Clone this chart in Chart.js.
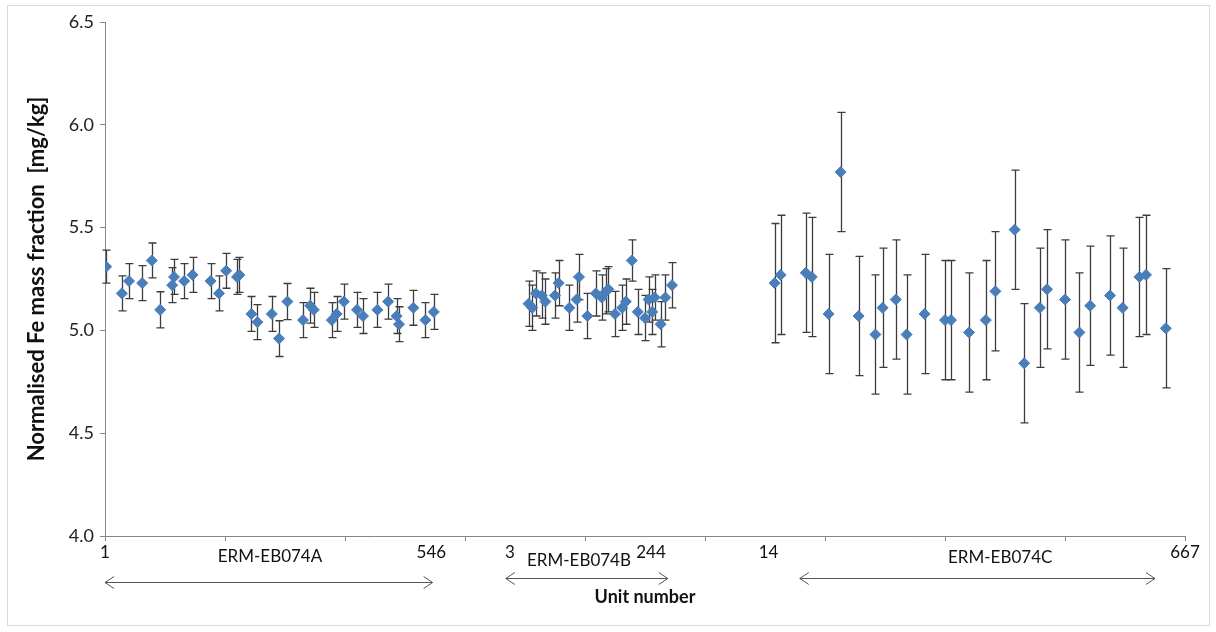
<!DOCTYPE html>
<html>
<head>
<meta charset="utf-8">
<script src="https://cdn.jsdelivr.net/npm/chart.js@4.4.1/dist/chart.umd.min.js"></script>
<style>
  html, body { margin: 0; padding: 0; background: #fff; }
  #wrap { width: 1216px; height: 632px; }
</style>
</head>
<body>
<div id="wrap"><canvas id="c" width="1216" height="632"></canvas></div>
<script>
/* Fe mass fraction per unit, three batches, Excel-style scatter with error bars. */

// ERM-EB074A
const posA = [0.1, 1.4, 2.0, 3.1, 3.9, 4.6, 5.6, 5.75, 6.6, 7.3, 8.8, 9.5, 10.1, 11.0, 11.2, 12.2, 12.7, 13.9, 14.5, 15.2,
  16.5, 17.1, 17.4, 18.9, 19.3, 19.9, 21.0, 21.5, 22.7, 23.6, 24.3, 24.5, 25.7, 26.7, 27.4];
const feA = [5.31, 5.18, 5.24, 5.23, 5.34, 5.10, 5.22, 5.26, 5.24, 5.27, 5.24, 5.18, 5.29, 5.26, 5.27, 5.08, 5.04, 5.08, 4.96, 5.14,
  5.05, 5.12, 5.10, 5.05, 5.08, 5.14, 5.10, 5.07, 5.10, 5.14, 5.07, 5.03, 5.11, 5.05, 5.09];
const uA = [0.08, 0.085, 0.085, 0.085, 0.085, 0.088, 0.085, 0.085, 0.085, 0.085, 0.085, 0.085, 0.085, 0.085, 0.085, 0.085, 0.085, 0.085, 0.087, 0.088,
  0.085, 0.085, 0.085, 0.085, 0.085, 0.085, 0.085, 0.085, 0.085, 0.085, 0.085, 0.085, 0.085, 0.085, 0.085];

// ERM-EB074B
const posB = [35.3, 35.6, 35.9, 36.4, 36.7, 37.5, 37.8, 38.7, 39.3, 39.5, 40.2, 40.9, 41.4, 41.75, 41.95, 42.5, 43.1, 43.4,
  43.9, 44.4, 45.0, 45.3, 45.6, 45.8, 46.3, 46.7, 47.25];
const feB = [5.13, 5.11, 5.18, 5.17, 5.14, 5.17, 5.23, 5.11, 5.15, 5.26, 5.07, 5.18, 5.16, 5.19, 5.20, 5.08, 5.11, 5.14,
  5.34, 5.09, 5.06, 5.15, 5.09, 5.16, 5.03, 5.16, 5.22];
const uB = [0.11, 0.11, 0.11, 0.11, 0.11, 0.11, 0.11, 0.11, 0.11, 0.11, 0.11, 0.11, 0.11, 0.11, 0.11, 0.11, 0.11, 0.11,
  0.10, 0.11, 0.11, 0.11, 0.11, 0.11, 0.11, 0.11, 0.11];

// ERM-EB074C
const posC = [55.8, 56.3, 58.4, 58.9, 60.3, 61.3, 62.8, 64.2, 64.8, 65.9, 66.8, 68.3, 70.0, 70.5, 72.0, 73.4, 74.2, 75.8,
  76.6, 77.9, 78.5, 80.0, 81.2, 82.1, 83.75, 84.8, 86.2, 86.75, 88.4];
const feC = [5.23, 5.27, 5.28, 5.26, 5.08, 5.77, 5.07, 4.98, 5.11, 5.15, 4.98, 5.08, 5.05, 5.05, 4.99, 5.05, 5.19, 5.49,
  4.84, 5.11, 5.20, 5.15, 4.99, 5.12, 5.17, 5.11, 5.26, 5.27, 5.01];
const uC = [0.29, 0.29, 0.29, 0.29, 0.29, 0.29, 0.29, 0.29, 0.29, 0.29, 0.29, 0.29, 0.29, 0.29, 0.29, 0.29, 0.29, 0.29,
  0.29, 0.29, 0.29, 0.29, 0.29, 0.29, 0.29, 0.29, 0.29, 0.29, 0.29];

const yTicks = [4.0, 4.5, 5.0, 5.5, 6.0, 6.5];
const unitLabels = ["1", "546", "3", "244", "14", "667"];
const batchNames = ["ERM-EB074A", "ERM-EB074B", "ERM-EB074C"];

// where the hand-placed Excel text boxes sit, in x-axis units
const ANN = {
  unitAt: [0, 27.2, 33.75, 45.5, 55.3, 90],
  nameAt: [13.75, 39.5, 74.6],
  nameDy: [21, 25, 22],
  arrows: [[0, 27.3, 46], [33.4, 46.9, 42], [57.9, 87.5, 42]],
};

const FONT = "Lato, 'Open Sans', Arial, sans-serif";
const BLUE = "#4a7ebb";
const AXIS = "#868686";

const pts = (xs, ys) => xs.map((x, i) => ({ x, y: ys[i] }));
const ds = (xs, ys, errs) => ({
  data: pts(xs, ys), err: errs,
  pointStyle: "rectRot", pointRadius: 5.5, pointHoverRadius: 5.5,
  backgroundColor: BLUE, borderColor: BLUE, borderWidth: 1, showLine: false,
});

const errorBars = {
  id: "errorBars",
  beforeDatasetsDraw(chart) {
    const { ctx } = chart, ys = chart.scales.y;
    ctx.save();
    ctx.strokeStyle = "#3c3c3c"; ctx.lineWidth = 1.3;
    chart.data.datasets.forEach((d, di) => {
      chart.getDatasetMeta(di).data.forEach((p, i) => {
        const v = d.data[i].y, e = d.err[i];
        const x = Math.round(p.x) + 0.5, t = ys.getPixelForValue(v + e), b = ys.getPixelForValue(v - e);
        ctx.beginPath();
        ctx.moveTo(x, t); ctx.lineTo(x, b);
        ctx.moveTo(x - 4, t); ctx.lineTo(x + 4, t);
        ctx.moveTo(x - 4, b); ctx.lineTo(x + 4, b);
        ctx.stroke();
      });
    });
    ctx.restore();
  },
};

const decor = {
  id: "decor",
  beforeDraw(chart) {
    const { ctx } = chart;
    ctx.save();
    ctx.fillStyle = "#fff"; ctx.fillRect(0, 0, chart.width, chart.height);
    ctx.strokeStyle = "#d9d9d9"; ctx.lineWidth = 1;
    ctx.strokeRect(7.5, 5.5, 1202, 620);
    ctx.restore();
  },
  afterDraw(chart) {
    const { ctx, chartArea } = chart, xs = chart.scales.x, base = chartArea.bottom;
    ctx.save();
    ctx.fillStyle = "#111"; ctx.textAlign = "center"; ctx.textBaseline = "middle";
    ctx.font = "17px " + FONT;
    unitLabels.forEach((s, i) => ctx.fillText(s, xs.getPixelForValue(ANN.unitAt[i]), base + 17));
    ctx.font = "17px " + FONT;
    batchNames.forEach((s, i) => ctx.fillText(s, xs.getPixelForValue(ANN.nameAt[i]), base + ANN.nameDy[i]));
    ctx.strokeStyle = "#555"; ctx.lineWidth = 1;
    ANN.arrows.forEach(([a, b, dy]) => {
      const x1 = xs.getPixelForValue(a), x2 = xs.getPixelForValue(b), y = Math.round(base + dy) + 0.5;
      ctx.beginPath();
      ctx.moveTo(x1, y); ctx.lineTo(x2, y);
      ctx.moveTo(x1 + 9, y - 6); ctx.lineTo(x1, y); ctx.lineTo(x1 + 9, y + 6);
      ctx.moveTo(x2 - 9, y - 6); ctx.lineTo(x2, y); ctx.lineTo(x2 - 9, y + 6);
      ctx.stroke();
    });
    ctx.restore();
  },
};

new Chart(document.getElementById("c"), {
  type: "scatter",
  data: { datasets: [ds(posA, feA, uA), ds(posB, feB, uB), ds(posC, feC, uC)] },
  plugins: [decor, errorBars],
  options: {
    responsive: false, animation: false,
    layout: { padding: { top: 22, right: 31, left: 0, bottom: 0 } },
    plugins: { legend: { display: false }, tooltip: { enabled: false } },
    scales: {
      x: {
        type: "linear", min: 0, max: 90,
        ticks: { stepSize: 10, callback: () => "" },
        grid: { drawOnChartArea: false, drawTicks: true, tickLength: 5, color: AXIS },
        border: { color: AXIS },
        title: { display: true, text: "Unit number", color: "#111", font: { family: FONT, size: 18, weight: "bold" }, padding: { top: 0, bottom: 24 } },
        afterFit: (s) => { s.height = 96; },
      },
      y: {
        min: 4, max: 6.5,
        afterBuildTicks: (s) => { s.ticks = yTicks.map((v) => ({ value: v })); },
        ticks: { callback: (v) => Number(v).toFixed(1), color: "#222", font: { family: FONT, size: 18 }, padding: 6 },
        grid: { drawOnChartArea: false, drawTicks: true, tickLength: 5, color: AXIS },
        border: { color: AXIS },
        title: { display: true, text: "Normalised Fe mass fraction  [mg/kg]", color: "#111", font: { family: FONT, size: 22, weight: "bold" }, padding: { top: 24, bottom: 0 } },
        afterFit: (s) => { s.width = 105; },
      },
    },
  },
});
</script>
</body>
</html>
